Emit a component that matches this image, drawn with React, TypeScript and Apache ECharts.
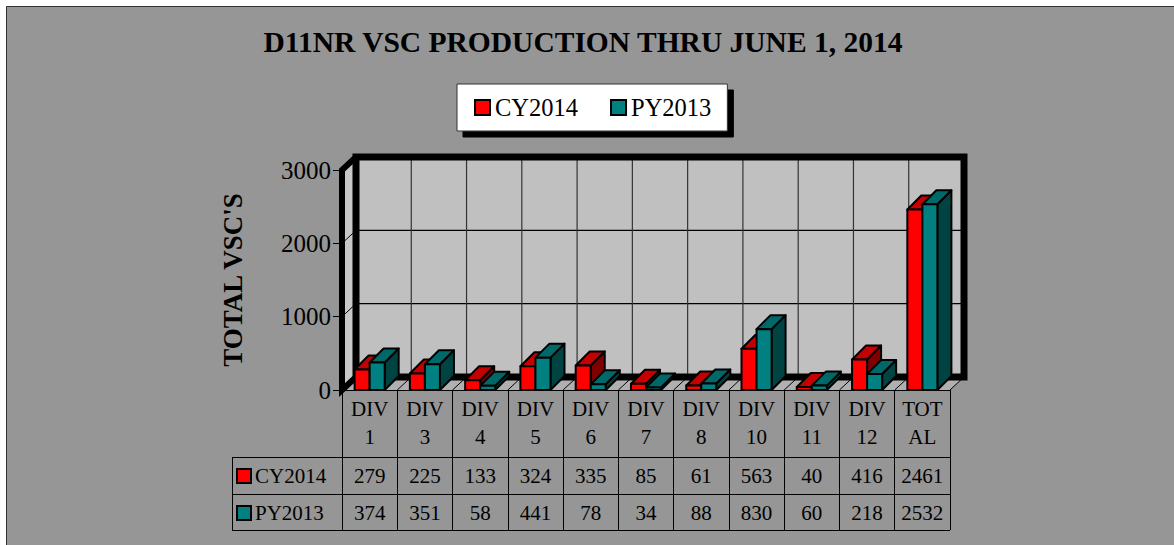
import React, { useEffect, useRef } from "react";
import * as echarts from "echarts";

const CATEGORIES = ["DIV\n1", "DIV\n3", "DIV\n4", "DIV\n5", "DIV\n6", "DIV\n7", "DIV\n8", "DIV\n10", "DIV\n11", "DIV\n12", "TOT\nAL"];
const CY2014 = [279, 225, 133, 324, 335, 85, 61, 563, 40, 416, 2461];
const PY2013 = [374, 351, 58, 441, 78, 34, 88, 830, 60, 218, 2532];
const SERIES_NAMES = ["CY2014", "PY2013"];
const Y_MAX = 3000;
const Y_INTERVAL = 1000;

const FONT = "'Liberation Serif', 'Times New Roman', serif";
const RED = { front: "#ff0000", top: "#c40000", side: "#800000" };
const TEAL = { front: "#008080", top: "#006868", side: "#004343" };

const BAR_DX = 14;
const BAR_DY = -14;
const WALL_DX = 14;
const WALL_DY = -13;

function barRenderer(first: boolean, col: { front: string; top: string; side: string }) {
  return (params: any, api: any) => {
    const cat = api.value(0);
    const v = api.value(1);
    const base = api.coord([cat, 0]);
    const tp = api.coord([cat, v]);
    const bw = api.size([1, 0])[0];
    const w = bw * 0.272;
    const x0 = first ? base[0] - w : base[0];
    const yT = tp[1];
    const yB = base[1];
    const st = { stroke: "#000", lineWidth: 2, lineJoin: "round" };
    return {
      type: "group",
      children: [
        {
          type: "polygon",
          shape: { points: [[x0 + w, yT], [x0 + w + BAR_DX, yT + BAR_DY], [x0 + w + BAR_DX, yB + BAR_DY], [x0 + w, yB]] },
          style: { fill: col.side, ...st },
        },
        {
          type: "polygon",
          shape: { points: [[x0, yT], [x0 + w, yT], [x0 + w + BAR_DX, yT + BAR_DY], [x0 + BAR_DX, yT + BAR_DY]] },
          style: { fill: col.top, ...st },
        },
        {
          type: "rect",
          shape: { x: x0, y: yT, width: w, height: yB - yT },
          style: { fill: col.front, ...st },
        },
      ],
    };
  };
}

function wallRenderer(params: any, api: any) {
  const n = CATEGORIES.length;
  const c0 = api.coord([0, 0]);
  const bw = api.size([1, 0])[0];
  const left = c0[0] - bw / 2;
  const right = left + bw * n;
  const bottom = c0[1];
  const top = api.coord([0, Y_MAX])[1];
  const dx = WALL_DX;
  const dy = WALL_DY;
  const children: any[] = [];
  children.push({
    type: "polygon",
    shape: { points: [[left, bottom], [right, bottom], [right + dx, bottom + dy], [left + dx, bottom + dy]] },
    style: { fill: "#b0b0b0" },
  });
  for (let i = 0; i <= n; i++) {
    const x = left + i * bw;
    children.push({
      type: "line",
      shape: { x1: x, y1: bottom, x2: x + dx, y2: bottom + dy },
      style: { stroke: "#000", lineWidth: 1 },
    });
  }
  children.push({
    type: "polygon",
    shape: { points: [[left, bottom], [left + dx, bottom + dy], [left + dx, top + dy], [left, top]] },
    style: { fill: "#c8c8c8" },
  });
  children.push({
    type: "rect",
    shape: { x: left + dx, y: top + dy, width: right - left, height: bottom - top },
    style: { fill: "#c0c0c0" },
  });
  for (let v = Y_INTERVAL; v < Y_MAX; v += Y_INTERVAL) {
    const y = api.coord([0, v])[1];
    children.push({
      type: "line",
      shape: { x1: left + dx, y1: y + dy, x2: right + dx, y2: y + dy },
      style: { stroke: "#000", lineWidth: 1.2 },
    });
    children.push({
      type: "line",
      shape: { x1: left, y1: y, x2: left + dx, y2: y + dy },
      style: { stroke: "#000", lineWidth: 1 },
    });
  }
  for (let i = 1; i < n; i++) {
    const x = left + i * bw + dx;
    children.push({
      type: "line",
      shape: { x1: x, y1: top + dy, x2: x, y2: bottom + dy },
      style: { stroke: "#333", lineWidth: 1.2 },
    });
  }
  children.push({
    type: "rect",
    shape: { x: left + dx, y: top + dy, width: right - left, height: bottom - top },
    style: { fill: "none", stroke: "#000", lineWidth: 7 },
  });
  children.push({
    type: "polyline",
    shape: { points: [[left + dx, top + dy], [left, top], [left, bottom], [left + dx, bottom + dy]] },
    style: { fill: "none", stroke: "#000", lineWidth: 6, lineJoin: "miter" },
  });
  return { type: "group", children };
}

export default function App() {
  const ref = useRef<HTMLDivElement>(null);
  useEffect(() => {
    if (!ref.current) return;
    const chart = echarts.init(ref.current, undefined, { renderer: "svg" });
    const tableText = { fontFamily: FONT, fontSize: 21, color: "#000" };
    chart.setOption({
      animation: false,
      backgroundColor: "#ffffff",
      graphic: [
        {
          type: "rect",
          z: -10,
          shape: { x: 6.5, y: 6.5, width: 1200, height: 600 },
          style: { fill: "#969696", stroke: "#333", lineWidth: 1 },
        },
        {
          type: "text",
          x: 583,
          y: 42,
          style: {
            text: "D11NR VSC PRODUCTION THRU JUNE 1, 2014",
            fontFamily: FONT,
            fontSize: 29.5,
            fontWeight: "bold",
            fill: "#000",
            textAlign: "center",
            textVerticalAlign: "middle",
          },
        },
        { type: "line", shape: { x1: 232, y1: 457.5, x2: 950, y2: 457.5 }, style: { stroke: "#000", lineWidth: 1 } },
        { type: "line", shape: { x1: 232, y1: 494.5, x2: 950, y2: 494.5 }, style: { stroke: "#000", lineWidth: 1 } },
        { type: "line", shape: { x1: 232, y1: 530.5, x2: 950, y2: 530.5 }, style: { stroke: "#000", lineWidth: 1 } },
        { type: "line", shape: { x1: 232.5, y1: 457, x2: 232.5, y2: 531 }, style: { stroke: "#000", lineWidth: 1 } },
        { type: "rect", shape: { x: 237, y: 469, width: 14, height: 14 }, style: { fill: RED.front, stroke: "#000", lineWidth: 2 } },
        { type: "rect", shape: { x: 237, y: 506, width: 14, height: 14 }, style: { fill: TEAL.front, stroke: "#000", lineWidth: 2 } },
        {
          type: "text",
          x: 255,
          y: 476,
          style: { text: SERIES_NAMES[0], fontFamily: FONT, fontSize: 21, fill: "#000", textVerticalAlign: "middle" },
        },
        {
          type: "text",
          x: 255,
          y: 513,
          style: { text: SERIES_NAMES[1], fontFamily: FONT, fontSize: 21, fill: "#000", textVerticalAlign: "middle" },
        },
      ],
      legend: {
        data: [
          { name: SERIES_NAMES[0], icon: "rect", itemStyle: { color: RED.front, borderColor: "#000", borderWidth: 2 } },
          { name: SERIES_NAMES[1], icon: "rect", itemStyle: { color: TEAL.front, borderColor: "#000", borderWidth: 2 } },
        ],
        left: 457,
        top: 84,
        itemWidth: 15,
        itemHeight: 15,
        itemGap: 32,
        padding: [11, 16, 11, 17],
        backgroundColor: "#fff",
        borderColor: "#333",
        borderWidth: 1,
        shadowColor: "#000",
        shadowBlur: 0,
        shadowOffsetX: 6,
        shadowOffsetY: 6,
        selectedMode: false,
        textStyle: { fontFamily: FONT, fontSize: 24.5, color: "#000" },
      },
      grid: { left: 342, top: 170, width: 608, height: 220, containLabel: false },
      xAxis: [
        {
          type: "category",
          data: CATEGORIES,
          position: "bottom",
          axisLine: { show: true, lineStyle: { color: "#000", width: 1 } },
          axisTick: { show: true, length: 140, interval: 0, lineStyle: { color: "#000", width: 1 } },
          axisLabel: { interval: 0, margin: 5, lineHeight: 28, ...tableText },
        },
        {
          type: "category",
          data: CATEGORIES,
          position: "bottom",
          offset: 67,
          axisLine: { show: false },
          axisTick: { show: false },
          axisLabel: { interval: 0, margin: 8, lineHeight: 21, ...tableText, formatter: (_v: string, i: number) => String(CY2014[i]) },
        },
        {
          type: "category",
          data: CATEGORIES,
          position: "bottom",
          offset: 104,
          axisLine: { show: false },
          axisTick: { show: false },
          axisLabel: { interval: 0, margin: 8, lineHeight: 21, ...tableText, formatter: (_v: string, i: number) => String(PY2013[i]) },
        },
      ],
      yAxis: {
        type: "value",
        min: 0,
        max: Y_MAX,
        interval: Y_INTERVAL,
        axisLine: { show: false },
        axisTick: { show: true, length: 9, lineStyle: { color: "#000" } },
        splitLine: { show: false },
        axisLabel: { margin: 11, fontFamily: FONT, fontSize: 25, color: "#000", formatter: (v: number) => String(v) },
        name: "TOTAL VSC'S",
        nameLocation: "middle",
        nameGap: 96,
        nameRotate: 90,
        nameTextStyle: { fontFamily: FONT, fontSize: 27, fontWeight: "bold", color: "#000" },
      },
      series: [
        {
          type: "custom",
          name: "walls",
          z: 1,
          silent: true,
          renderItem: wallRenderer,
          data: [[0, 0]],
        },
        {
          type: "custom",
          name: SERIES_NAMES[0],
          z: 3,
          itemStyle: { color: RED.front },
          renderItem: barRenderer(true, RED),
          data: CY2014.map((v, i) => [i, v]),
        },
        {
          type: "custom",
          name: SERIES_NAMES[1],
          z: 4,
          itemStyle: { color: TEAL.front },
          renderItem: barRenderer(false, TEAL),
          data: PY2013.map((v, i) => [i, v]),
        },
      ],
    });
    return () => chart.dispose();
  }, []);
  return <div ref={ref} style={{ position: "fixed", left: 0, top: 0, width: 1174, height: 545 }} />;
}
